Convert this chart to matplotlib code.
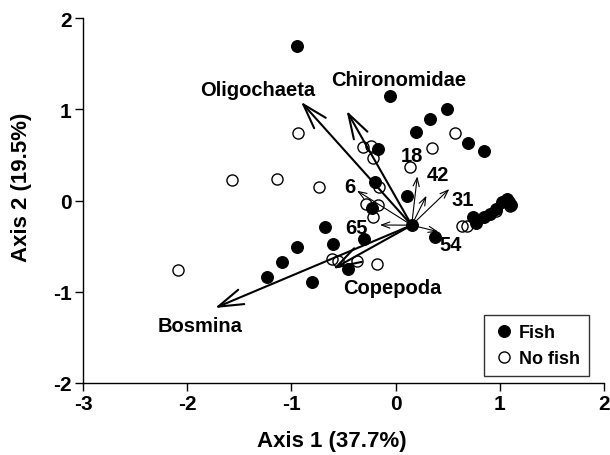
#!/usr/bin/env python3
import numpy as np
import matplotlib.pyplot as plt

plt.rcParams['font.family'] = ['Liberation Sans', 'DejaVu Sans']
plt.rcParams['font.weight'] = 'bold'
plt.rcParams['axes.unicode_minus'] = False

# Site scores, fish present
fish_x = [-0.945, -0.05, 0.495, 0.33, 0.195, 0.695, 0.853, -0.166, -0.198, 0.106,
          -0.229, 0.155, 0.376, 0.746, 0.777, 0.848, 0.906, 0.963, 1.018, 1.066,
          1.088, 1.107, -0.679, -0.598, -0.948, -1.094, -1.232, -0.80, -0.30, -0.454]
fish_y = [1.69, 1.148, 1.003, 0.893, 0.747, 0.627, 0.546, 0.564, 0.199, 0.053,
          -0.082, -0.27, -0.404, -0.184, -0.247, -0.181, -0.148, -0.093, -0.016, 0.016,
          -0.016, -0.049, -0.294, -0.477, -0.51, -0.678, -0.842, -0.89, -0.422, -0.751]

# Site scores, no fish
nofish_x = [-0.94, -1.567, -1.135, -0.737, 0.57, 0.35, 0.138, -0.31, -0.239, -0.22,
            -0.156, -0.284, -0.166, -0.214, 0.634, 0.682, -2.088, -0.613, -0.55, -0.373,
            -0.181, 1.10, 0.96]
nofish_y = [0.743, 0.228, 0.236, 0.145, 0.74, 0.572, 0.364, 0.59, 0.60, 0.466,
            0.145, -0.038, -0.046, -0.178, -0.276, -0.276, -0.758, -0.641, -0.66, -0.66,
            -0.696, -0.06, -0.11]

# Biplot vectors (common origin)
origin = (0.155, -0.27)
taxa = ["Oligochaeta", "Chironomidae", "Bosmina", "Copepoda"]
taxa_tip_x = [-0.908, -0.47, -1.733, -0.60]
taxa_tip_y = [1.083, 0.985, -1.178, -0.75]
taxa_lab_x = [-1.32, 0.033, -1.877, -0.028]
taxa_lab_y = [1.22, 1.33, -1.372, -0.951]

vars_ = ["6", "18", "42", "31", "54", "65"]
var_tip_x = [-0.37, 0.209, 0.297, 0.516, 0.41, -0.15]
var_tip_y = [0.108, 0.265, 0.053, 0.126, -0.342, -0.268]
var_lab_x = [-0.44, 0.154, 0.41, 0.643, 0.528, -0.37]
var_lab_y = [0.156, 0.491, 0.29, 0.016, -0.477, -0.294]

fig = plt.figure(figsize=(6.1, 4.56), dpi=100)
ax = fig.add_axes([0.136, 0.158, 0.854, 0.80])

# Points
ax.plot(nofish_x, nofish_y, 'o', ms=8, mfc='none', mec='black', mew=1.0,
        label='No fish', zorder=2)
ax.plot(fish_x, fish_y, 'o', ms=8.5, mfc='black', mec='black', mew=0.8,
        label='Fish', zorder=3)

# Thick taxa arrows
for tx, ty in zip(taxa_tip_x, taxa_tip_y):
    ax.annotate('', xy=(tx, ty), xytext=origin,
                arrowprops=dict(arrowstyle='->,head_length=0.9,head_width=0.28',
                                lw=1.5, color='black', shrinkA=0, shrinkB=0,
                                mutation_scale=20), zorder=4)

# Thin variable arrows
for tx, ty in zip(var_tip_x, var_tip_y):
    ax.annotate('', xy=(tx, ty), xytext=origin,
                arrowprops=dict(arrowstyle='->,head_length=0.6,head_width=0.22',
                                lw=0.8, color='black', shrinkA=0, shrinkB=0,
                                mutation_scale=10), zorder=4)

for name, lx, ly in zip(taxa, taxa_lab_x, taxa_lab_y):
    ax.text(lx, ly, name, fontsize=14.5, fontweight='bold', ha='center', va='center')
for name, lx, ly in zip(vars_, var_lab_x, var_lab_y):
    ax.text(lx, ly, name, fontsize=14.5, fontweight='bold', ha='center', va='center')

# Axes
ax.set_xlim(-3, 2)
ax.set_ylim(-2, 2)
ax.set_xticks([-3, -2, -1, 0, 1, 2])
ax.set_yticks([-2, -1, 0, 1, 2])
ax.spines['top'].set_visible(False)
ax.spines['right'].set_visible(False)
for s in ['left', 'bottom']:
    ax.spines[s].set_linewidth(1.0)
ax.tick_params(direction='out', length=6, width=1.0, labelsize=15, pad=2)

ax.set_xlabel('Axis 1 (37.7%)', fontsize=16, fontweight='bold')
ax.xaxis.set_label_coords(0.478, -0.13)
ax.set_ylabel('Axis 2 (19.5%)', fontsize=16, fontweight='bold')
ax.yaxis.set_label_coords(-0.098, 0.538)

handles, labels = ax.get_legend_handles_labels()
leg = ax.legend(handles[::-1], labels[::-1], loc='lower right',
                bbox_to_anchor=(0.971, 0.019), borderaxespad=0, fontsize=13,
                frameon=True, fancybox=False, edgecolor='black',
                handletextpad=0.2, handlelength=1.2, labelspacing=0.5,
                borderpad=0.5)
leg.get_frame().set_linewidth(1.0)

fig.savefig('out.png', dpi=100)
